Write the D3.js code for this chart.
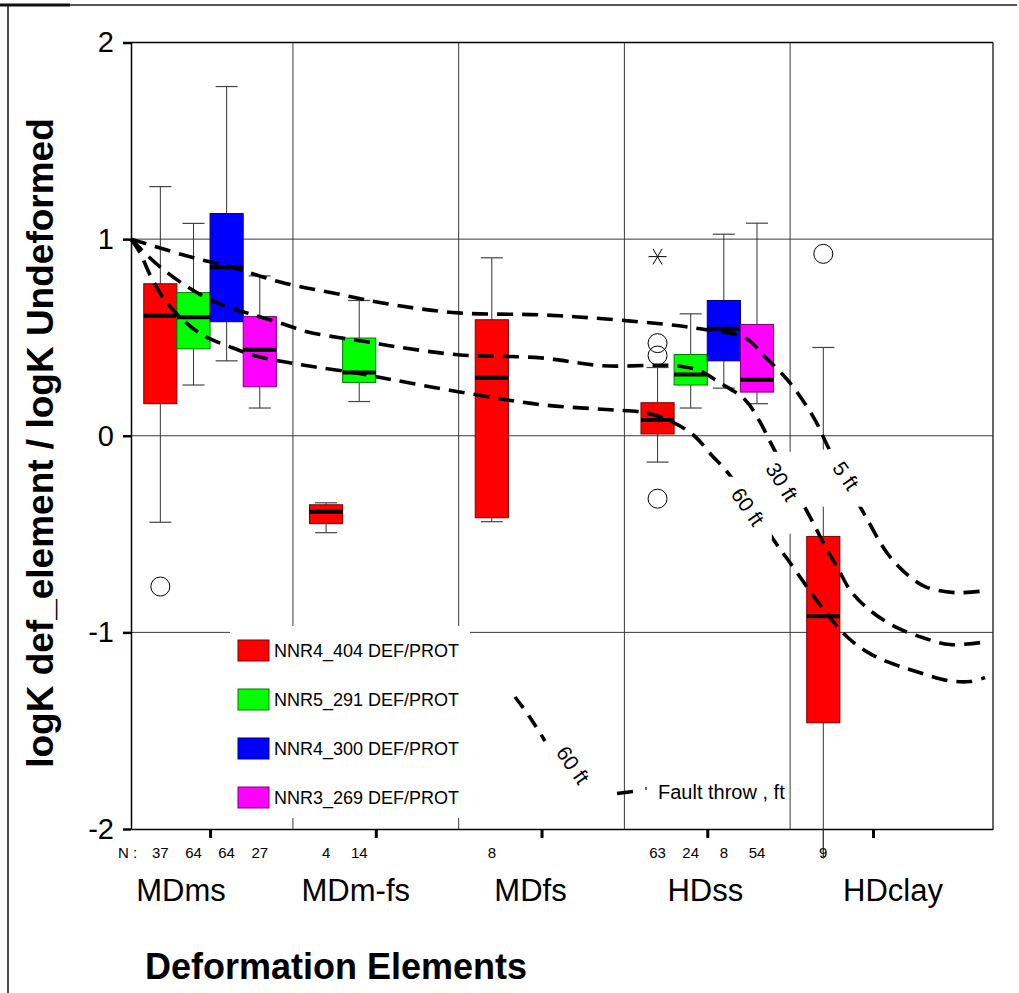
<!DOCTYPE html>
<html><head><meta charset="utf-8">
<script src="https://cdn.jsdelivr.net/npm/d3@7/dist/d3.min.js"></script>
<style>body{margin:0;background:#fff}svg{display:block;font-family:"Liberation Sans",Arial,sans-serif}</style>
</head><body>
<svg id="chart" width="1019" height="993"></svg>
<script>
// ---------------- DATA ----------------
const categories = ["MDms", "MDm-fs", "MDfs", "HDss", "HDclay"];
const seriesNames = ["NNR4_404 DEF/PROT", "NNR5_291 DEF/PROT", "NNR4_300 DEF/PROT", "NNR3_269 DEF/PROT"];
const seriesColors = ["#ff0000", "#00ff00", "#0000ff", "#ff00ff"];
const yTicks = [-2, -1, 0, 1, 2];
const yTickLabels = ["-2", "-1", "0", "1", "2"];

const boxCategory = [0, 0, 0, 0, 1, 1, 2, 3, 3, 3, 3, 4];
const boxSeries   = [0, 1, 2, 3, 0, 1, 0, 0, 1, 2, 3, 0];
const whiskerLow  = [-0.44, 0.258, 0.381, 0.141, -0.493, 0.174, -0.437, -0.134, 0.141, 0.242, 0.163, -2.15];
const quart1      = [0.163, 0.442, 0.58, 0.249, -0.447, 0.271, -0.417, 0.009, 0.258, 0.381, 0.222, -1.46];
const medians     = [0.61, 0.603, 0.857, 0.437, -0.386, 0.322, 0.295, 0.08, 0.312, 0.544, 0.285, -0.918];
const quart3      = [0.773, 0.728, 1.13, 0.606, -0.351, 0.497, 0.59, 0.168, 0.413, 0.688, 0.566, -0.512];
const whiskerHigh = [1.267, 1.08, 1.776, 0.813, -0.341, 0.688, 0.905, 0.347, 0.62, 1.025, 1.081, 0.449];
const nCounts     = [37, 64, 64, 27, 4, 14, 8, 63, 24, 8, 54, 9];

const outlierCategory = [0, 3, 3, 3, 3, 4];
const outlierSeries   = [0, 0, 0, 0, 0, 0];
const outlierValue    = [-0.767, 0.471, 0.408, -0.32, 0.911, 0.925];
const outlierShape    = ["circle", "circle", "circle", "circle", "star", "circle"];

// fault-throw curves: [category position, logK ratio]
const curve5ft = [[-0.477,1.0],[-0.121,0.91],[0.121,0.859],[0.44,0.778],[0.766,0.722],[1.104,0.666],[1.496,0.625],[1.997,0.615],[2.371,0.595],[2.775,0.564],[2.956,0.544],[3.228,0.498],[3.348,0.402],[3.499,0.269],[3.65,0.081],[3.728,-0.056],[3.976,-0.442],[4.084,-0.595],[4.193,-0.696],[4.314,-0.767],[4.495,-0.798],[4.676,-0.788]];
const curve30ft = [[-0.477,1.0],[-0.302,0.859],[-0.078,0.727],[0.103,0.656],[0.241,0.62],[0.404,0.579],[0.585,0.529],[0.784,0.498],[0.947,0.478],[1.128,0.452],[1.496,0.412],[1.997,0.396],[2.371,0.356],[2.805,0.356],[2.956,0.33],[3.077,0.269],[3.228,0.183],[3.318,0.071],[3.379,-0.03],[3.638,-0.442],[3.722,-0.579],[3.783,-0.666],[3.873,-0.798],[4.0,-0.9],[4.145,-0.976],[4.302,-1.027],[4.465,-1.062],[4.646,-1.052]];
const curve60ft = [[-0.477,1.0],[-0.422,0.93],[-0.362,0.818],[-0.278,0.696],[-0.157,0.584],[-0.036,0.508],[0.121,0.452],[0.271,0.407],[0.446,0.376],[0.627,0.351],[0.875,0.32],[1.098,0.285],[1.496,0.224],[1.997,0.158],[2.413,0.132],[2.624,0.117],[2.775,0.076],[2.914,0.005],[3.035,-0.107],[3.119,-0.183],[3.433,-0.569],[3.499,-0.645],[3.68,-0.859],[3.843,-1.022],[3.982,-1.108],[4.133,-1.164],[4.284,-1.205],[4.452,-1.245],[4.585,-1.25],[4.676,-1.23]];
const curveLabels = ["5 ft", "30 ft", "60 ft"];
const curveLabelPos = [[3.837, -0.203], [3.451, -0.234], [3.245, -0.361]];

// ---------------- LAYOUT ----------------
const L = 131, R = 993, T = 42.5, B = 829;
const svg = d3.select("#chart");
const x = d3.scaleLinear().domain([-0.477, 4.724]).range([L, R]);
const y = d3.scaleLinear().domain([-2, 2]).range([B, T]);
const step = x(1) - x(0);
const boxW = step * 0.2;
const seriesOffset = [-1.5, -0.5, 0.5, 1.5];
const catLabelDx = [-29, -20, -11, -2, 20];
const labelAngles = [55, 58, 55];
const labelBg = [[-26,-26,20,31],[-20,-30,21,52],[-26,-30,24,33]];
const annFont = 21;

svg.append("rect").attr("width", 1019).attr("height", 993).attr("fill", "#fff");

// outer frame
svg.append("line").attr("x1", 70).attr("x2", 1017).attr("y1", 5).attr("y2", 5).attr("stroke", "#555").attr("stroke-width", 2);
svg.append("line").attr("x1", 0).attr("x2", 70).attr("y1", 5).attr("y2", 5).attr("stroke", "#111").attr("stroke-width", 3);
svg.append("line").attr("x1", 8).attr("x2", 8).attr("y1", 5).attr("y2", 993).attr("stroke", "#111").attr("stroke-width", 1.5);

// gridlines
const grid = svg.append("g").attr("stroke", "#3a3a3a").attr("stroke-width", 1);
[-1, 0, 1].forEach(v => grid.append("line").attr("x1", L).attr("x2", R).attr("y1", y(v)).attr("y2", y(v)));
[0.5, 1.5, 2.5, 3.5].forEach(v => grid.append("line").attr("x1", x(v)).attr("x2", x(v)).attr("y1", T).attr("y2", B));

// box plots
const boxes = d3.range(boxCategory.length).map(i => ({
  c: boxCategory[i], s: boxSeries[i], lo: whiskerLow[i], q1: quart1[i], med: medians[i], q3: quart3[i], hi: whiskerHigh[i], n: nCounts[i]
}));
const cx = d => x(d.c) + seriesOffset[d.s] * boxW;
const bg = svg.append("g");
boxes.forEach(d => {
  const c = cx(d);
  bg.append("line").attr("x1", c).attr("x2", c).attr("y1", y(d.hi)).attr("y2", y(d.lo)).attr("stroke", "#333").attr("stroke-width", 1);
  [d.hi, d.lo].forEach(v => { if (v >= -2) bg.append("line").attr("x1", c - 11).attr("x2", c + 11).attr("y1", y(v)).attr("y2", y(v)).attr("stroke", "#444").attr("stroke-width", 1.2); });
  bg.append("rect").attr("x", c - boxW / 2).attr("width", boxW).attr("y", y(d.q3)).attr("height", y(d.q1) - y(d.q3))
    .attr("fill", seriesColors[d.s]).attr("stroke", d3.color(seriesColors[d.s]).darker(2)).attr("stroke-width", 1);
  bg.append("line").attr("x1", c - boxW / 2).attr("x2", c + boxW / 2).attr("y1", y(d.med)).attr("y2", y(d.med)).attr("stroke", "#000").attr("stroke-width", 4);
});

// outliers
d3.range(outlierValue.length).forEach(i => {
  const c = x(outlierCategory[i]) + seriesOffset[outlierSeries[i]] * boxW, yy = y(outlierValue[i]);
  if (outlierShape[i] === "circle") {
    bg.append("circle").attr("cx", c).attr("cy", yy).attr("r", 9.5).attr("fill", "none").attr("stroke", "#000").attr("stroke-width", 1);
  } else {
    [0, 60, 120].forEach(a => {
      const r = 9, dx = r * Math.cos(a * Math.PI / 180), dy = r * Math.sin(a * Math.PI / 180);
      bg.append("line").attr("x1", c - dx).attr("x2", c + dx).attr("y1", yy - dy).attr("y2", yy + dy).attr("stroke", "#000").attr("stroke-width", 1);
    });
  }
});

// curves
const line = d3.line().x(d => x(d[0])).y(d => y(d[1])).curve(d3.curveCatmullRom.alpha(0.5));
[curve5ft, curve30ft, curve60ft].forEach(cv => {
  svg.append("path").attr("d", line(cv)).attr("fill", "none").attr("stroke", "#000").attr("stroke-width", 3.6).attr("stroke-dasharray", "16,9");
});
curveLabels.forEach((t, i) => {
  const px = x(curveLabelPos[i][0]), py = y(curveLabelPos[i][1]);
  const b = labelBg[i];
  svg.append("rect").attr("x", px + b[0]).attr("y", py + b[1]).attr("width", b[2] - b[0]).attr("height", b[3] - b[1]).attr("fill", "#fff");
  svg.append("text").attr("transform", `translate(${px},${py}) rotate(${labelAngles[i]})`).attr("text-anchor", "middle")
    .attr("dominant-baseline", "central").attr("font-size", annFont).text(t);
});

// legend
const lg = svg.append("g");
lg.append("rect").attr("x", 230).attr("y", 626).attr("width", 240).attr("height", 192).attr("fill", "#fff");
seriesNames.forEach((n, i) => {
  const yy = 640 + i * 49;
  lg.append("rect").attr("x", 238).attr("y", yy).attr("width", 31).attr("height", 21).attr("fill", seriesColors[i])
    .attr("stroke", d3.color(seriesColors[i]).darker(2)).attr("stroke-width", 1);
  lg.append("text").attr("x", 274).attr("y", yy + 11).attr("dominant-baseline", "central").attr("font-size", 18).text(n);
});
// fault throw legend sample
svg.append("path").attr("d", "M515,697 Q530,716 545,741").attr("fill", "none").attr("stroke", "#000").attr("stroke-width", 3.6).attr("stroke-dasharray", "14,9");
svg.append("text").attr("transform", "translate(573,765) rotate(55)").attr("text-anchor", "middle").attr("dominant-baseline", "central").attr("font-size", annFont).text("60 ft");
svg.append("line").attr("x1", 617).attr("x2", 633).attr("y1", 793.5).attr("y2", 791.5).attr("stroke", "#000").attr("stroke-width", 3.6);
svg.append("line").attr("x1", 646).attr("x2", 646).attr("y1", 787).attr("y2", 790).attr("stroke", "#000").attr("stroke-width", 1.2);
svg.append("text").attr("x", 658).attr("y", 792).attr("dominant-baseline", "central").attr("font-size", 20).text("Fault throw , ft");

// borders top/right
svg.append("line").attr("x1", L).attr("x2", R).attr("y1", T).attr("y2", T).attr("stroke", "#000").attr("stroke-width", 1.5);
svg.append("line").attr("x1", R).attr("x2", R).attr("y1", T).attr("y2", B).attr("stroke", "#333").attr("stroke-width", 1.5);

// axes
const ya = svg.append("g").attr("transform", `translate(${L},0)`)
  .call(d3.axisLeft(y).tickValues(yTicks).tickFormat((d, i) => yTickLabels[i]).tickSize(8).tickSizeOuter(0).tickPadding(9));
ya.select(".domain").attr("stroke", "#000").attr("stroke-width", 1.5);
ya.selectAll(".tick line").attr("stroke", "#000").attr("stroke-width", 2.5);
ya.selectAll(".tick text").attr("font-size", 29).attr("font-family", "Liberation Sans, Arial, sans-serif").attr("fill", "#000");

const xa = svg.append("g").attr("transform", `translate(0,${B})`)
  .call(d3.axisBottom(x).tickValues(d3.range(categories.length)).tickFormat("").tickSize(9).tickSizeOuter(0));
xa.select(".domain").attr("stroke", "#000").attr("stroke-width", 1.5);
xa.selectAll(".tick line").attr("stroke", "#000").attr("stroke-width", 3);

// N labels
svg.append("text").attr("x", 118).attr("y", 852).attr("dominant-baseline", "central").attr("font-size", 15).text("N :");
boxes.forEach(d => {
  svg.append("text").attr("x", cx(d)).attr("y", 852).attr("text-anchor", "middle").attr("dominant-baseline", "central").attr("font-size", 15).text(d.n);
});
// HDclay lower whisker extends beyond the axis, over its N label
boxes.filter(d => d.lo < -2).forEach(d => {
  svg.append("line").attr("x1", cx(d)).attr("x2", cx(d)).attr("y1", B).attr("y2", y(d.lo)).attr("stroke", "#333").attr("stroke-width", 1);
});

// category labels
categories.forEach((c, i) => {
  svg.append("text").attr("x", x(i) + catLabelDx[i]).attr("y", 901).attr("text-anchor", "middle").attr("font-size", 31).text(c);
});

// axis titles
svg.append("text").attr("transform", "translate(53,443) rotate(-90)").attr("text-anchor", "middle")
  .attr("font-size", 37).attr("font-weight", "bold").text("logK def_element / logK Undeformed");
svg.append("text").attr("x", 145).attr("y", 979).attr("font-size", 36).attr("font-weight", "bold").text("Deformation Elements");
</script>
</body></html>
